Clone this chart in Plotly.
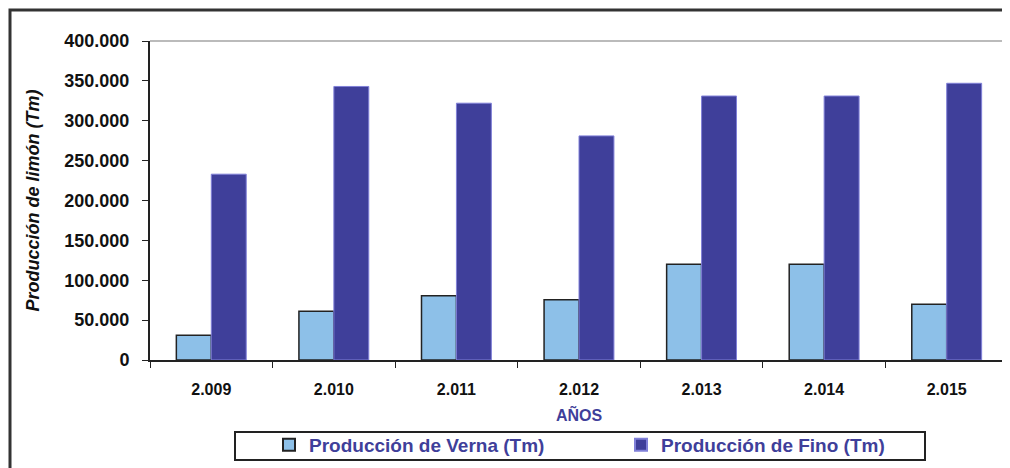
import plotly.graph_objects as go

years = ["2.009", "2.010", "2.011", "2.012", "2.013", "2.014", "2.015"]
verna = [31000, 61000, 80500, 75500, 120000, 120000, 70000]
fino = [233000, 343000, 322000, 281000, 331000, 331000, 347000]
y_ticks = [0, 50000, 100000, 150000, 200000, 250000, 300000, 350000, 400000]

fig = go.Figure()
fig.add_trace(go.Bar(
    x=years, y=verna, name="Producción de Verna (Tm)",
    marker=dict(color="#8DC0E8", line=dict(color="#222222", width=1.5)),
))
fig.add_trace(go.Bar(
    x=years, y=fino, name="Producción de Fino (Tm)",
    marker=dict(color="#3F3F9A", line=dict(color="#8080D8", width=1)),
))

OFF = 8  # page body margin
W, H = 1010 - OFF, 468 - OFF
L, R, T, B = 150 - OFF, 2, 41 - OFF, 468 - 360
pw, ph = W - L - R, H - T - B

def px_x(p):
    return (p - OFF - L) / pw

def px_y(p):
    return (H - B - (p - OFF)) / ph

bold = dict(family="Liberation Sans, Arial", weight="bold")

fig.update_layout(
    width=W, height=H,
    margin=dict(l=L, r=R, t=T, b=B),
    paper_bgcolor="white", plot_bgcolor="white",
    separators=",.",
    barmode="group", bargap=0.43, bargroupgap=0,
    font=dict(family="Liberation Sans, Arial", color="#111111"),
    showlegend=True,
    legend=dict(
        orientation="h", x=px_x(269), xanchor="left", y=px_y(445), yanchor="middle",
        borderwidth=0, bgcolor="rgba(0,0,0,0)",
        font=dict(size=19, color="#3F3F9A", **bold),
        entrywidth=307, itemsizing="constant",
    ),
    xaxis=dict(
        type="category", tickson="boundaries", ticks="outside", ticklen=6,
        tickcolor="#222222", showline=True, linecolor="#222222", linewidth=2,
        tickfont=dict(size=16, color="#111111", **bold),
        ticklabelstandoff=14,
        title=dict(text="AÑOS", font=dict(size=16, color="#3F3F9A", **bold), standoff=13),
        showgrid=False,
    ),
    yaxis=dict(
        range=[0, 400000], tickvals=y_ticks, tickformat=",.0f",
        ticks="outside", ticklen=6, tickcolor="#222222",
        showline=True, linecolor="#222222", linewidth=2,
        tickfont=dict(size=18, color="#111111", **bold),
        ticklabelstandoff=9,
        showgrid=False, zeroline=False,
        title=dict(text="<i>Producción de limón (Tm)</i>",
                   font=dict(size=18, color="#111111", **bold), standoff=20),
    ),
    shapes=[
        dict(type="line", xref="paper", yref="paper", x0=0, x1=1, y0=1, y1=1,
             line=dict(color="#BBBBBB", width=2)),
        dict(type="line", xref="paper", yref="paper", x0=1, x1=1, y0=0, y1=1,
             line=dict(color="#BBBBBB", width=2)),
        dict(type="rect", xref="paper", yref="paper", x0=px_x(10), x1=px_x(1030),
             y0=px_y(500), y1=px_y(10), line=dict(color="#333333", width=3),
             fillcolor="rgba(0,0,0,0)", layer="below"),
        dict(type="rect", xref="paper", yref="paper", x0=px_x(235), x1=px_x(925),
             y0=px_y(460), y1=px_y(432), line=dict(color="#222222", width=2),
             fillcolor="white", layer="below"),
    ],
)

fig.write_html("out.html")
